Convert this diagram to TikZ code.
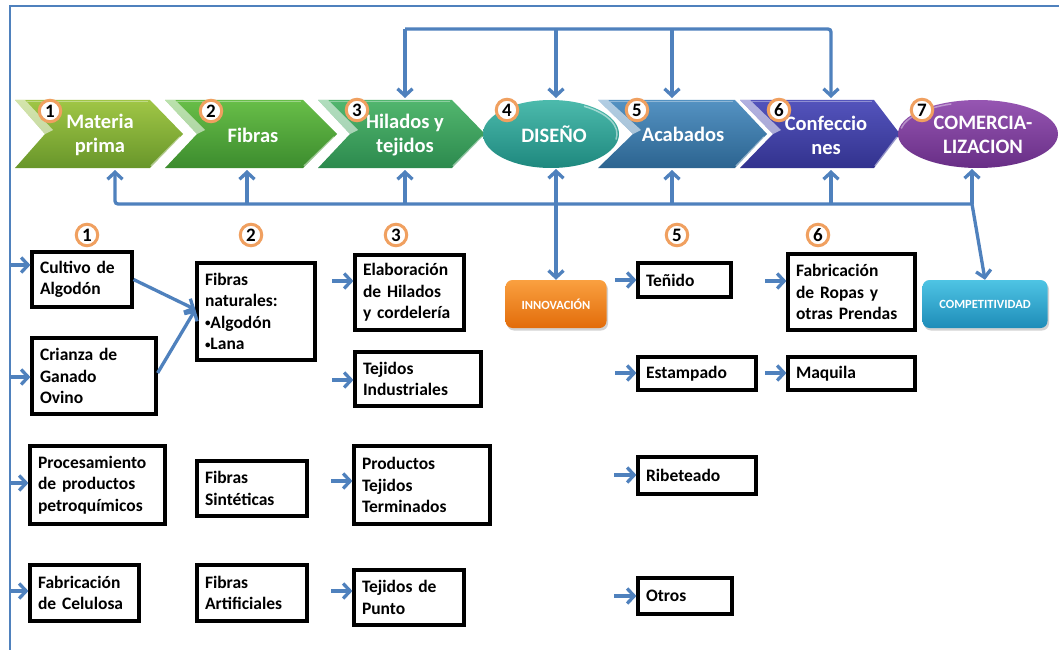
\documentclass[tikz,border=0pt]{standalone}
\usepackage{fontspec}
\setmainfont{Carlito}
\usetikzlibrary{arrows.meta,shadows,calc}
\definecolor{ablue}{HTML}{4F81BD}
\definecolor{numorange}{HTML}{F0A060}
\newcommand\chev[5]{%
  \path[#5] (#1,100) -- (#3,100) -- (#4,134) -- (#3,168) -- (#1,168) -- (#2,134) -- cycle;
  \fill[white,opacity=.55] (#1,100) -- ({#1+10},100) -- ({#2+8},130) -- (#2,134) -- cycle;
  \draw[white,opacity=.45,line width=1.5pt] ({#4-3},137) -- ({#3+1},166);
  \draw[white,opacity=.35,line width=1.2pt] ({#1+12},101.5) -- ({#3-2},101.5);
}
\newcommand\bx[6]{%
  \pgfmathsetmacro\bxw{#4-#2-16}\pgfmathsetmacro\bxh{#5-#3}%
  \pgfmathsetmacro\bxcx{(#2+#4)/2}\pgfmathsetmacro\bxcy{(#3+#5)/2}%
  \node[box,text width=\bxw pt,minimum height=\bxh pt] (#1) at (\bxcx,\bxcy) {#6};}
\newcommand\bul{\raisebox{1.5pt}{\fontsize{11}{11}\selectfont•}}
\begin{document}
\begin{tikzpicture}[x=1pt,y=-1pt,
  arr/.style={draw=ablue,line width=3.3pt,-{Straight Barb[length=7pt,width=15pt]}},
  box/.style={draw=black,line width=3.2pt,fill=white,inner xsep=8pt,inner ysep=3pt,align=left,font=\fontsize{17.5}{21.5}\selectfont\bfseries},
  ctext/.style={text=white,font=\fontsize{20.5}{24}\selectfont\bfseries,align=center,inner sep=0pt},
  numc/.style={circle,draw=numorange,line width=3pt,fill=white,inner sep=0pt,minimum size=21.5pt,font=\fontsize{19}{19}\selectfont\bfseries},
  rbox/.style={rounded corners=7pt,minimum width=101pt,minimum height=48pt,text=white,font=\fontsize{12.5}{14}\selectfont\bfseries,drop shadow={opacity=.35,shadow xshift=1.5pt,shadow yshift=-2.5pt}},
]
\useasboundingbox (0,0) rectangle (1059,650);
\fill[white] (0,0) rectangle (1059,650);
% frame
\draw[draw=ablue,line width=2.6pt] (1059,6) -- (10,6) -- (10,650);

% coordinates
\coordinate (tL) at (405,29);
\coordinate (tD) at (556,29);
\coordinate (tA) at (672,29);
\coordinate (c3t) at (405,98);
\coordinate (e4t) at (556,98);
\coordinate (c5t) at (672,98);
\coordinate (c6t) at (831,98);
\coordinate (bR) at (972,204);
\coordinate (b2) at (247,204);
\coordinate (b3) at (405,204);
\coordinate (b4) at (556,204);
\coordinate (b5) at (672,204);
\coordinate (b6) at (831,204);
\coordinate (c1b) at (115,170);
\coordinate (c2b) at (247,170);
\coordinate (c3b) at (405,170);
\coordinate (e4b) at (556,169);
\coordinate (c5b) at (672,170);
\coordinate (c6b) at (831,170);
\coordinate (e7b) at (972,169);

% chevrons and ellipses
\chev{15}{45}{150}{183}{top color={rgb,255:red,160;green,198;blue,70},bottom color={rgb,255:red,104;green,150;blue,42}}
\chev{165}{197}{303}{337}{top color={rgb,255:red,104;green,190;blue,72},bottom color={rgb,255:red,60;green,140;blue,46}}
\chev{318}{350}{452}{485}{top color={rgb,255:red,82;green,182;blue,110},bottom color={rgb,255:red,44;green,138;blue,78}}
\chev{740}{773}{874}{900}{top color={rgb,255:red,84;green,84;blue,188},bottom color={rgb,255:red,50;green,50;blue,142}}
\chev{598}{633}{735}{767}{top color={rgb,255:red,84;green,146;blue,194},bottom color={rgb,255:red,44;green,100;blue,144}}
\path[top color={rgb,255:red,76;green,186;blue,172},bottom color={rgb,255:red,30;green,136;blue,126}] (551,134) ellipse [x radius=68, y radius=34];
\draw[white,opacity=.5,line width=1.5pt] (551,134) ++(10:66 and 32) arc[start angle=10,end angle=-60,x radius=66,y radius=32];
\path[top color={rgb,255:red,150;green,86;blue,178},bottom color={rgb,255:red,104;green,46;blue,134}] (978,134) ellipse [x radius=80, y radius=34];
\draw[white,opacity=.4,line width=1.5pt] (978,134) ++(190:78 and 32) arc[start angle=190,end angle=250,x radius=78,y radius=32];

\node[ctext] (c1) at (100,135) {Materia\\prima};
\node[ctext] (c2) at (253,135) {Fibras};
\node[ctext] (c3) at (405,135) {Hilados y\\tejidos};
\node[ctext] (c4) at (554,134) {DISEÑO};
\node[ctext] (c5) at (683,134) {Acabados};
\node[ctext] (c6) at (826,135) {Confeccio\\nes};
\node[ctext] (c7) at (983,135) {COMERCIA-\\LIZACION};

% top connectors
\draw[arr,rounded corners=3pt] (tL) -| (c6t);
\draw[arr] (tL) -- (c3t);
\draw[arr] (tD) -- (e4t);
\draw[arr] (tA) -- (c5t);

% rounded boxes
\node[rbox,top color={rgb,255:red,250;green,160;blue,64},bottom color={rgb,255:red,226;green,108;blue,10}] (innov) at (556,304) {INNOVACIÓN};
\node[rbox,minimum width=125pt,top color={rgb,255:red,78;green,196;blue,228},bottom color={rgb,255:red,30;green,140;blue,184}] (comp) at (985,304) {COMPETITIVIDAD};

% bottom connectors
\draw[arr,rounded corners=3pt] (bR) -| (c1b);
\draw[arr] (b2) -- (c2b);
\draw[arr] (b3) -- (c3b);
\draw[arr] (b4) -- (e4b);
\draw[arr] (b5) -- (c5b);
\draw[arr] (b6) -- (c6b);
\draw[arr] (bR) -- (e7b);
\draw[arr] (b4) -- (innov.north);
\draw[arr] (bR) -- (comp.north);

% number circles (top)
\node[numc] (n1) at (50,111) {1};
\node[numc] (n2) at (211,111) {2};
\node[numc] (n3) at (357,110) {3};
\node[numc] (n4) at (507,110) {4};
\node[numc] (n5) at (637,110) {5};
\node[numc] (n6) at (779,110) {6};
\node[numc] (n7) at (922,110) {7};
% number circles (lower)
\node[numc] (m1) at (87,235) {1};
\node[numc] (m2) at (251,235) {2};
\node[numc] (m3) at (396,235) {3};
\node[numc] (m5) at (677,235) {5};
\node[numc] (m6) at (818,235) {6};

% boxes
\bx{cultivo}{32}{252}{132}{307}{Cultivo de\\Algodón}
\bx{crianza}{32}{338}{156}{414}{Crianza de\\Ganado\\Ovino}
\bx{proces}{30}{446}{165}{524}{Procesamiento\\de productos\\petroquímicos}
\bx{celul}{30}{565}{139}{621}{Fabricación\\de Celulosa}
\bx{fnat}{197}{263}{315}{360}{Fibras\\naturales:\\\bul Algodón\\\bul Lana}
\bx{fsint}{197}{461}{307}{516}{Fibras\\Sintéticas}
\bx{fart}{197}{565}{307}{621}{Fibras\\Artificiales}
\bx{elab}{355}{255}{464}{330}{Elaboración\\de Hilados\\y cordelería}
\bx{tind}{355}{352}{481}{406}{Tejidos\\Industriales}
\bx{prod}{354}{446}{490}{524}{Productos\\Tejidos\\Terminados}
\bx{punto}{354}{570}{464}{625}{Tejidos de\\Punto}
\bx{tenido}{638}{263}{731}{297}{Teñido}
\bx{estamp}{638}{357}{756}{390}{Estampado}
\bx{ribet}{638}{457}{756}{494}{Ribeteado}
\bx{otros}{638}{578}{732}{614}{Otros}
\bx{fabr}{788}{254}{915}{330}{Fabricación\\de Ropas y\\otras Prendas}
\bx{maquila}{788}{357}{915}{390}{Maquila}

% short arrows
\coordinate (a1) at (10,265);
\coordinate (a2) at (10,377);
\coordinate (a3) at (10,483);
\coordinate (a4) at (10,591);
\draw[arr] (a1) -- (a1 -| cultivo.west);
\draw[arr] (a2) -- (a2 -| crianza.west);
\draw[arr] (a3) -- (a3 -| proces.west);
\draw[arr] (a4) -- (a4 -| celul.west);
\draw[arr] (cultivo.east) -- ([yshift=2pt]fnat.west);
\draw[arr] ([yshift=3pt]crianza.east) -- ([yshift=2pt]fnat.west);
\coordinate (d1) at (332,281);
\coordinate (d2) at (332,380);
\coordinate (d3) at (331,481);
\coordinate (d4) at (331,591);
\draw[arr] (d1) -- (d1 -| elab.west);
\draw[arr] (d2) -- (d2 -| tind.west);
\draw[arr] (d3) -- (d3 -| prod.west);
\draw[arr] (d4) -- (d4 -| punto.west);
\coordinate (e1) at (615,280);
\coordinate (e2) at (615,373);
\coordinate (e3) at (614,475);
\coordinate (e4) at (614,596);
\draw[arr] (e1) -- (e1 -| tenido.west);
\draw[arr] (e2) -- (e2 -| estamp.west);
\draw[arr] (e3) -- (e3 -| ribet.west);
\draw[arr] (e4) -- (e4 -| otros.west);
\coordinate (f1) at (765,281);
\coordinate (f2) at (765,373);
\draw[arr] (f1) -- (f1 -| fabr.west);
\draw[arr] (f2) -- (f2 -| maquila.west);
\end{tikzpicture}
\end{document}
